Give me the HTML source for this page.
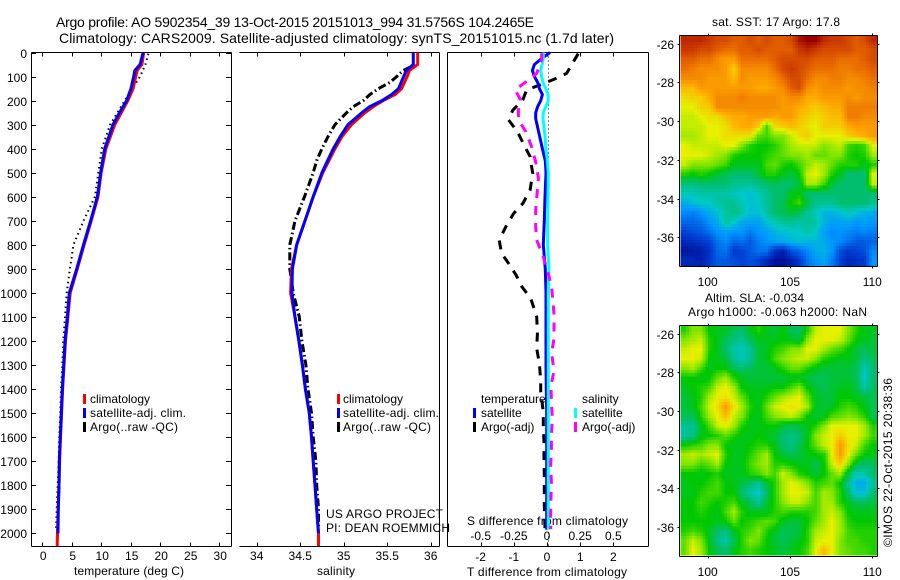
<!DOCTYPE html>
<html lang="en">
<head>
<meta charset="utf-8">
<title>Argo profile</title>
<style>
html,body{margin:0;padding:0;background:#fff;width:900px;height:580px;overflow:hidden}
svg{display:block}
text{font-family:"Liberation Sans",sans-serif;font-size:12px;fill:#000}
</style>
</head>
<body>
<svg id="chart" xmlns="http://www.w3.org/2000/svg" width="900" height="580" viewBox="0 0 900 580">
  <rect x="0" y="0" width="900" height="580" fill="#fff"/>
  <text x="56" y="27" style="font-size:14px" textLength="478" lengthAdjust="spacing">Argo profile: AO 5902354_39 13-Oct-2015 20151013_994 31.5756S 104.2465E</text>
  <text x="59" y="43" style="font-size:14px" textLength="555" lengthAdjust="spacing">Climatology: CARS2009. Satellite-adjusted climatology: synTS_20151015.nc (1.7d later)</text>
  <text x="74" y="575" textLength="110" lengthAdjust="spacing">temperature (deg C)</text>
  <text x="317" y="575" textLength="38" lengthAdjust="spacing">salinity</text>
  <text x="467" y="576" textLength="160" lengthAdjust="spacing">T difference from climatology</text>
  <text x="467" y="525" textLength="161" lengthAdjust="spacing">S difference from climatology</text>
  <text x="326" y="518" textLength="117" lengthAdjust="spacing">US ARGO PROJECT</text>
  <text x="326" y="532" textLength="124" lengthAdjust="spacing">PI: DEAN ROEMMICH</text>
  <text x="712" y="26" textLength="128" lengthAdjust="spacing">sat. SST: 17 Argo: 17.8</text>
  <text x="705" y="302" textLength="99" lengthAdjust="spacing">Altim. SLA: -0.034</text>
  <text x="688" y="316" textLength="179" lengthAdjust="spacing">Argo h1000: -0.063 h2000: NaN</text>
  <text transform="translate(892,547) rotate(-90)" textLength="169" lengthAdjust="spacing">©IMOS 22-Oct-2015 20:38:36</text>

  <rect x="83" y="394" width="3" height="10" fill="#ff0000"/>
  <text x="90" y="403">climatology</text>
  <rect x="83" y="408" width="3" height="10" fill="#0000ff"/>
  <text x="90" y="417" textLength="96" lengthAdjust="spacing">satellite-adj. clim.</text>
  <rect x="83" y="422" width="3" height="10" fill="#000"/>
  <text x="90" y="431" textLength="88" lengthAdjust="spacing">Argo(..raw -QC)</text>

  <rect x="337" y="394" width="3" height="10" fill="#ff0000"/>
  <text x="343" y="403">climatology</text>
  <rect x="337" y="408" width="3" height="10" fill="#0000ff"/>
  <text x="343" y="417" textLength="96" lengthAdjust="spacing">satellite-adj. clim.</text>
  <rect x="337" y="422" width="3" height="10" fill="#000"/>
  <text x="343" y="431" textLength="88" lengthAdjust="spacing">Argo(..raw -QC)</text>

  <g id="panel1"></g>
  <g id="panel2"></g>
  <g id="panel3"></g>
  <g id="map1"></g>
  <g id="map2"></g>

  <text x="481" y="403">temperature</text>
  <rect x="473" y="408" width="3" height="10" fill="#0000ff"/>
  <text x="481" y="417">satellite</text>
  <rect x="473" y="422" width="3" height="10" fill="#000"/>
  <text x="481" y="431">Argo(-adj)</text>
  <text x="582" y="403">salinity</text>
  <rect x="574" y="408" width="3" height="10" fill="#00ffff"/>
  <text x="582" y="417">satellite</text>
  <rect x="574" y="422" width="3" height="10" fill="#ff00ff"/>
  <text x="582" y="431">Argo(-adj)</text>
</svg>
<script>
// ---------- data: profiles ----------
var depthTicks = [0,100,200,300,400,500,600,700,800,900,1000,1100,1200,1300,1400,1500,1600,1700,1800,1900,2000];
var tempTicks = [0,5,10,15,20,25,30];
var salTicks = [34,34.5,35,35.5,36];
var dTTicks = [-2,-1,0,1,2];
var dSTicks = [-0.5,-0.25,0,0.25,0.5];
var dSTickLabels = ['-0.5','-0.25','0','0.25','0.5'];

var climDepths = [0,50,75,100,150,200,250,300,400,500,600,700,800,900,1000,1100,1200,1300,1400,1500,1600,1700,1800,1900,2000,2053];
var climTemp = [17.2,16.9,16.1,15.85,15.4,14.5,13.4,12.3,10.8,10.0,9.45,8.3,7.1,5.95,4.75,4.35,3.95,3.7,3.45,3.28,3.1,2.95,2.85,2.7,2.6,2.55];

var satDepths = [0,50,75,100,150,200,250,300,400,500,600,700,800,900,1000,1100,1200,1300,1400,1500,1600,1700,1800,1900,2000];
var satTemp = [17.1,16.6,15.7,15.5,15.05,14.3,13.1,12.0,10.6,9.9,9.35,8.2,7.0,5.85,4.6,4.26,3.87,3.64,3.4,3.24,3.07,2.9,2.85,2.73,2.68];

var argoTempDepths = [5,50,100,200,300,400,500,600,700,800,900,1000,1100,1200,1300,1400,1500,1600,1700,1800,1900,1980];
var argoTemp = [18,17.5,16.6,14,11.5,10.1,9.5,8.95,7,5.3,4.7,4.15,3.87,3.58,3.4,3.2,3.06,2.9,2.8,2.62,2.45,2.35];

var salDepths = [0,50,75,100,150,175,200,225,250,300,350,400,500,600,700,800,900,1000,1100,1200,1300,1400,1500,1600,1700,1800,1900,2000];
var climSal = [35.85,35.85,35.755,35.73,35.665,35.59,35.455,35.34,35.245,35.09,34.98,34.90,34.76,34.65,34.555,34.46,34.40,34.39,34.44,34.485,34.525,34.56,34.605,34.63,34.65,34.67,34.69,34.71];
var satSal = [35.80,35.80,35.72,35.69,35.63,35.55,35.44,35.30,35.21,35.05,34.96,34.88,34.75,34.65,34.555,34.46,34.41,34.405,34.44,34.485,34.525,34.56,34.605,34.63,34.65,34.67,34.69,34.71];
var climSalBottomDepths = [2000,2053];
var climSalBottom = [34.71,34.71];

var argoSalDepths = [60,75,100,125,150,175,200,225,250,300,350,400,450,500,600,700,800,900,1000,1100,1200,1300,1400,1500,1600,1700,1800,1900,1980];
var argoSal = [35.77,35.685,35.61,35.53,35.40,35.30,35.225,35.11,35.035,34.90,34.82,34.75,34.69,34.65,34.55,34.44,34.38,34.38,34.42,34.49,34.52,34.565,34.59,34.63,34.65,34.68,34.69,34.71,34.71];

var diffDepths = [0,25,50,75,100,125,150,175,200,225,250,275,300,350,400,450,500,600,700,800,900,1000,1100,1200,1300,1400,1500,1600,1700,1800,1900,1985];
var satDeltaT = [0.09,-0.16,-0.38,-0.44,-0.38,-0.28,-0.23,-0.14,-0.19,-0.28,-0.34,-0.34,-0.30,-0.22,-0.14,-0.05,-0.03,-0.06,-0.08,-0.11,-0.05,-0.03,-0.03,-0.03,-0.03,-0.02,-0.01,-0.01,-0.01,-0.01,-0.01,-0.01];
var satDeltaS = [-0.028,-0.028,-0.038,-0.048,-0.04,-0.03,-0.01,0.008,0.01,-0.008,-0.028,-0.03,-0.025,-0.015,-0.008,0.003,0.01,0.008,0.005,0.005,0.015,0.01,0.01,0.01,0.01,0.01,0.01,0.01,0.01,0.01,0.01,0.01];

var argoDTDepths = [5,40,87,110,135,155,197,240,280,330,385,433,503,572,628,670,725,780,835,877,926,974,1023,1044,1099,1170,1230,1295,1365,1410,1495,1560,1620,1690,1760,1820,1885,1985];
var argoDeltaT = [0.94,0.79,0.59,0.24,-0.21,-0.61,-0.73,-1.03,-1.16,-0.89,-0.69,-0.51,-0.43,-0.51,-0.73,-1.01,-1.24,-1.44,-1.37,-1.16,-0.93,-0.76,-0.49,-0.44,-0.31,-0.29,-0.31,-0.23,-0.19,-0.19,-0.11,-0.11,-0.09,-0.09,-0.08,-0.08,-0.08,-0.06];

var argoDSDepths = [3,30,87,115,155,197,240,280,330,392,461,523,586,655,725,780,808,850,905,975,1057,1090,1190,1250,1325,1385,1450,1520,1590,1645,1720,1790,1850,1920,1982];
var argoDeltaS = [-0.04,-0.04,-0.078,-0.14,-0.24,-0.2,-0.216,-0.216,-0.158,-0.116,-0.083,-0.065,-0.075,-0.085,-0.085,-0.078,-0.058,-0.028,0.003,0.035,0.048,0.053,0.053,0.035,0.053,0.03,0.033,0.04,0.033,0.033,0.028,0.033,0.03,0.028,0.028];

// ---------- data: maps (colour level 0-100) ----------
var lonTicks = [100,105,110];
var latTicks = [26,28,30,32,34,36];
var sstLevels = [
[96,96,96,94,92,92,90,90,92,90,92,90,90,92,98,100,100,96,94,94,92,90,92,96],
[94,94,92,92,90,88,88,90,90,92,90,90,90,90,94,96,94,92,92,92,92,90,90,92],
[90,90,88,88,84,82,82,88,88,88,88,90,92,92,92,92,90,90,90,88,88,88,90,92],
[88,86,84,84,84,82,76,84,84,84,84,88,92,94,92,90,88,88,88,86,86,88,88,90],
[84,84,84,82,82,82,78,84,82,82,82,84,88,92,92,88,84,84,86,86,84,84,86,88],
[78,78,82,82,82,82,82,82,82,80,80,82,84,90,92,84,82,84,84,84,82,84,84,86],
[74,76,76,80,84,84,84,86,84,84,84,84,82,84,84,80,80,82,82,82,84,82,84,84],
[72,72,76,76,84,84,84,84,84,84,84,84,82,82,80,78,76,78,80,80,86,86,86,86],
[70,70,72,74,74,78,80,80,82,82,82,80,82,82,78,76,74,76,78,78,86,86,84,84],
[70,70,70,72,72,74,78,80,80,76,62,74,76,78,76,74,72,76,76,76,80,82,82,82],
[68,68,70,72,72,74,74,74,74,64,62,66,66,70,74,76,72,72,72,72,76,78,80,82],
[72,70,70,70,70,72,72,66,60,58,58,60,64,68,70,70,70,66,68,70,62,60,62,72],
[72,72,72,70,68,66,60,58,58,58,60,62,64,66,66,68,64,64,66,66,60,58,60,68],
[70,66,66,66,64,62,56,56,56,56,62,64,60,58,62,66,70,68,64,60,60,60,56,60],
[60,58,60,58,54,52,50,50,50,54,60,60,56,54,58,70,72,68,60,56,50,50,50,72],
[48,48,50,50,50,50,46,46,46,48,50,52,50,50,54,68,68,62,54,50,50,50,50,70],
[42,42,44,44,44,44,42,40,38,42,46,50,50,56,58,50,50,50,50,50,50,50,50,50],
[34,38,40,40,44,46,46,42,38,40,46,50,52,58,62,54,46,46,46,50,50,50,50,46],
[28,26,30,34,38,44,48,44,38,38,44,50,52,54,52,46,42,36,36,38,42,38,36,34],
[22,22,24,30,34,44,40,34,32,32,38,42,46,46,44,46,44,36,32,32,34,30,32,30],
[16,18,20,24,30,32,30,30,26,30,32,36,38,40,40,44,40,32,28,30,28,26,28,26],
[10,12,14,16,24,28,22,24,20,26,30,32,34,36,38,36,36,34,30,28,24,20,20,22],
[6,6,8,12,22,24,14,16,20,24,24,12,8,18,22,28,34,36,30,18,14,16,18,28],
[10,10,8,14,20,20,18,16,18,16,10,4,4,8,14,24,30,32,26,16,10,12,14,30]
];
var slaLevels = [
[60,66,66,58,56,56,52,50,56,60,56,54,58,52,50,60,70,72,72,72,66,60,56,56],
[66,68,70,60,56,52,48,46,52,56,56,56,58,56,54,66,72,72,72,70,64,58,56,54],
[70,72,72,60,56,50,44,42,46,54,56,60,62,66,66,72,72,68,64,62,58,54,52,54],
[72,72,70,58,56,54,46,42,46,54,56,62,66,68,70,70,66,60,58,56,56,54,48,52],
[66,68,62,56,58,58,52,50,52,54,54,56,60,64,64,60,56,54,54,54,54,52,42,50],
[58,58,56,58,64,68,60,56,54,54,54,54,54,56,56,54,52,52,54,54,54,52,40,50],
[56,58,60,62,70,72,68,58,56,56,56,58,58,62,66,58,54,52,54,56,56,54,44,52],
[54,56,60,68,72,74,70,64,58,56,60,64,68,70,72,64,56,54,54,58,58,56,54,52],
[54,56,62,70,74,82,74,68,60,56,64,70,72,74,72,68,56,54,56,60,62,60,56,52],
[52,52,60,68,72,78,70,66,58,56,62,66,68,70,66,58,54,56,62,64,66,64,60,52],
[46,46,56,62,70,72,68,60,56,56,58,58,54,52,54,56,60,66,72,72,72,72,68,60],
[44,48,56,58,60,64,60,56,56,58,56,54,50,48,50,56,66,70,72,76,72,72,68,62],
[58,60,62,66,66,58,56,56,58,60,60,56,50,48,52,58,64,70,72,82,74,70,62,58],
[68,70,68,70,72,60,56,56,60,64,68,58,54,52,54,56,58,60,72,82,72,64,58,56],
[66,66,62,64,68,58,56,56,62,66,68,60,60,58,56,56,52,58,70,76,66,54,50,52],
[58,58,56,58,60,56,56,56,60,62,66,62,70,66,60,58,54,58,64,68,54,42,44,50],
[56,58,58,60,62,58,56,54,50,46,54,60,68,72,70,66,60,62,64,58,46,34,34,46],
[56,56,60,62,62,58,58,50,44,40,50,60,68,72,72,70,62,68,66,60,50,38,38,50],
[58,58,62,60,58,60,62,56,52,46,54,60,66,70,70,66,62,68,68,60,56,52,52,54],
[58,58,60,58,56,62,68,60,56,56,56,60,62,60,60,60,62,68,70,66,58,56,56,56],
[58,58,58,58,56,58,64,58,60,62,64,62,56,54,54,58,64,68,72,68,60,58,58,58],
[60,62,60,56,50,48,56,60,62,66,60,56,52,52,54,60,68,70,72,68,62,60,60,60],
[64,70,66,56,48,44,52,60,66,64,58,54,52,54,56,60,70,72,72,66,62,62,60,60],
[64,72,68,58,52,50,56,60,62,60,58,56,54,56,58,62,72,78,72,66,64,62,62,60]
];

// ---------- axis functions ----------
var NS = 'http://www.w3.org/2000/svg';
function yDepth(d){ return 52.5 + 0.2404 * d; }
function xTemp(t){ return 42.2 + 5.9 * t; }
function xSal(s){ return 256.7 + 87 * (s - 34); }
function xDT(d){ return 547 + 33.2 * d; }
function xDS(d){ return 547 + 132.6 * d; }
function xLon(lon){ return 707.7 + 16.46 * (lon - 100); }
function yLat1(lat){ return 43.7 + 19.36 * (lat - 26); }
function yLat2(lat){ return 333.7 + 19.33 * (lat - 26); }

function make(tag, attrs, parent){
  var e = document.createElementNS(NS, tag);
  for (var k in attrs) e.setAttribute(k, attrs[k]);
  parent.appendChild(e);
  return e;
}
function seg(parent, x1, y1, x2, y2){
  return make('line', {x1:x1, y1:y1, x2:x2, y2:y2, stroke:'#000', 'stroke-width':1, 'shape-rendering':'crispEdges'}, parent);
}
function label(parent, x, y, txt, anchor){
  var t = make('text', {x:x, y:y, 'text-anchor':anchor}, parent);
  t.textContent = txt;
  return t;
}
function profile(parent, depths, values, xf, color, width, dash){
  var pts = [];
  for (var i = 0; i < depths.length; i++) pts.push(xf(values[i]).toFixed(1) + ',' + yDepth(depths[i]).toFixed(1));
  var a = {points:pts.join(' '), fill:'none', stroke:color, 'stroke-width':width, 'stroke-linejoin':'round'};
  if (dash) a['stroke-dasharray'] = dash;
  return make('polyline', a, parent);
}
function frameLine(parent, x1, y1, x2, y2){
  var l = seg(parent, x1, y1, x2, y2);
  
  
}
function tickMark(parent, x1, y1, x2, y2){
  var l = seg(parent, x1, y1, x2, y2);
  
  
}
function tickLabel(parent, x, y, txt, anchor){
  var t = label(parent, x, y, txt, anchor);
  
  
}

// ---------- panel 1: temperature ----------
var TOP = 52.5, BOT = 546.5;
var p1 = document.getElementById('panel1');
frameLine(p1, 31.5, TOP, 231.5, TOP);
frameLine(p1, 31.5, BOT, 231.5, BOT);
frameLine(p1, 31.5, TOP, 31.5, BOT);
frameLine(p1, 231.5, TOP, 231.5, BOT);
depthTicks.forEach(function(d){
  var y = Math.round(yDepth(d)) + 0.5;
  tickMark(p1, 32, y, 36, y);
  tickMark(p1, 226, y, 231, y);
  tickLabel(p1, 27, y + 4.5, String(d), 'end');
});
tempTicks.forEach(function(t){
  var x = Math.round(xTemp(t)) + 0.5;
  tickMark(p1, x, TOP, x, TOP + 4);
  tickMark(p1, x, BOT - 4, x, BOT);
  tickLabel(p1, xTemp(t) + 1, 560, String(t), 'middle');
});
var argoTLine = profile(p1, argoTempDepths, argoTemp, xTemp, '#000', 2, '1.5 3.5');


var climTLine = profile(p1, climDepths, climTemp, xTemp, '#ff0000', 3);


var satTLine = profile(p1, satDepths, satTemp, xTemp, '#0000ff', 3);



// ---------- panel 2: salinity ----------
var p2 = document.getElementById('panel2');
frameLine(p2, 239.5, TOP, 439.5, TOP);
frameLine(p2, 239.5, BOT, 439.5, BOT);
frameLine(p2, 439.5, TOP, 439.5, BOT);
salTicks.forEach(function(s){
  var x = Math.round(xSal(s)) + 0.5;
  tickMark(p2, x, TOP, x, TOP + 4);
  tickMark(p2, x, BOT - 4, x, BOT);
  tickLabel(p2, xSal(s), 560, String(s), 'middle');
});
var argoSLine = profile(p2, argoSalDepths, argoSal, xSal, '#000', 3, '8 3 1.5 3');


var climSLine = profile(p2, salDepths, climSal, xSal, '#ff0000', 3);


var climSBottom = profile(p2, climSalBottomDepths, climSalBottom, xSal, '#ff0000', 3);


var satSLine = profile(p2, salDepths, satSal, xSal, '#0000ff', 3);



// ---------- panel 3: differences ----------
var p3 = document.getElementById('panel3');
frameLine(p3, 447.5, TOP, 648.5, TOP);
frameLine(p3, 447.5, BOT, 648.5, BOT);
frameLine(p3, 447.5, TOP, 447.5, BOT);
frameLine(p3, 648.5, TOP, 648.5, BOT);
dTTicks.forEach(function(t){
  var x = Math.round(xDT(t)) + 0.5;
  tickMark(p3, x, TOP, x, TOP + 4);
  tickMark(p3, x, BOT - 4, x, BOT);
  tickLabel(p3, xDT(t), 561, String(t), 'middle');
});
dSTicks.forEach(function(s, i){
  tickLabel(p3, xDS(s), 540, dSTickLabels[i], 'middle');
});
var zeroLine = make('line', {x1:548.5, y1:TOP, x2:548.5, y2:BOT, stroke:'#000', 'stroke-width':1, 'stroke-dasharray':'1 3'}, p3);


var argoDTLine = profile(p3, argoDTDepths, argoDeltaT, xDT, '#000', 3, '9 8');


var satDTLine = profile(p3, diffDepths, satDeltaT, xDT, '#0000ff', 3);


var satDSLine = profile(p3, diffDepths, satDeltaS, xDS, '#00ffff', 3);


var argoDSLine = profile(p3, argoDSDepths, argoDeltaS, xDS, '#ff00ff', 3, '9 8');



// ---------- maps ----------
var palette = [[0,0,0,130],[15,0,60,210],[30,0,150,255],[40,0,200,200],[50,0,190,110],[58,0,200,0],[66,130,230,0],[72,230,240,0],[80,255,170,0],[88,235,110,0],[96,190,40,0],[100,150,0,0]];
function levelColor(v){
  for (var i = 1; i < palette.length; i++){
    if (v <= palette[i][0]){
      var a = palette[i-1], b = palette[i], f = (v - a[0]) / (b[0] - a[0]);
      return 'rgb(' + Math.round(a[1]+(b[1]-a[1])*f) + ',' + Math.round(a[2]+(b[2]-a[2])*f) + ',' + Math.round(a[3]+(b[3]-a[3])*f) + ')';
    }
  }
  return 'rgb(150,0,0)';
}
function sampleLevel(levels, u, v){
  var rows = levels.length, cols = levels[0].length;
  var cf = Math.max(0, Math.min(cols - 1, u - 0.5));
  var rf = Math.max(0, Math.min(rows - 1, v - 0.5));
  var c0 = Math.floor(cf), r0 = Math.floor(rf);
  var c1 = Math.min(cols - 1, c0 + 1), r1 = Math.min(rows - 1, r0 + 1);
  var fx = cf - c0, fy = rf - r0;
  return (levels[r0][c0]*(1-fx) + levels[r0][c1]*fx)*(1-fy) + (levels[r1][c0]*(1-fx) + levels[r1][c1]*fx)*fy;
}
function drawMap(g, levels, yLat, top, bot, baseline){
  var x0 = xLon(98.36), x1 = xLon(110.29);
  var latN = 25.57, latS = 37.45;
  var rows = levels.length, cols = levels[0].length, sub = 3;
  for (var r = 0; r < rows * sub; r++){
    for (var c = 0; c < cols * sub; c++){
      var xa = x0 + (x1 - x0) * c / (cols * sub), xb = x0 + (x1 - x0) * (c + 1) / (cols * sub);
      var ya = yLat(latN + (latS - latN) * r / (rows * sub)), yb = yLat(latN + (latS - latN) * (r + 1) / (rows * sub));
      var lv = sampleLevel(levels, (c + 0.5) / sub, (r + 0.5) / sub);
      var cell = make('rect', {x:xa.toFixed(2), y:ya.toFixed(2), width:(xb-xa+0.4).toFixed(2), height:(yb-ya+0.4).toFixed(2), fill:levelColor(lv), 'shape-rendering':'crispEdges'}, g);
      
      
    }
  }
  var L = 679.5, R = 877.5;
  frameLine(g, L, top, R, top);
  frameLine(g, L, bot, R, bot);
  frameLine(g, L, top, L, bot);
  frameLine(g, R, top, R, bot);
  lonTicks.forEach(function(lon){
    var x = Math.round(xLon(lon)) + 0.5;
    tickMark(g, x, top - 2, x, top);
    tickMark(g, x, bot, x, bot + 2);
    tickLabel(g, xLon(lon), baseline, String(lon), 'middle');
  });
  latTicks.forEach(function(lat){
    var y = Math.round(yLat(lat)) + 0.5;
    tickMark(g, L - 2, y, L, y);
    tickMark(g, R, y, R + 2, y);
    tickLabel(g, 674, y + 4.5, '-' + lat, 'end');
  });
}
drawMap(document.getElementById('map1'), sstLevels, yLat1, 35.5, 266.5, 286);
drawMap(document.getElementById('map2'), slaLevels, yLat2, 325.5, 556.5, 576);
</script>
</body>
</html>
